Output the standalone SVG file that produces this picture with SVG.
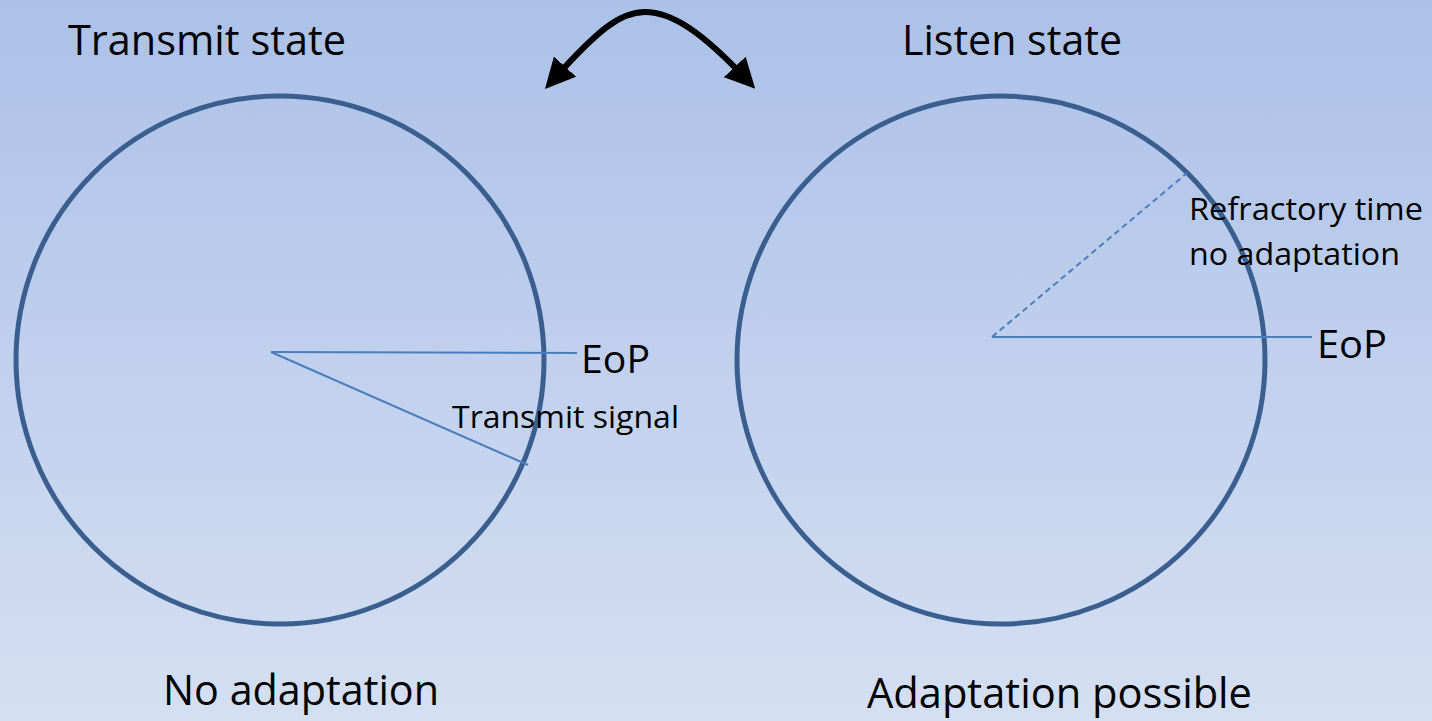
<svg xmlns="http://www.w3.org/2000/svg" width="1432" height="721" viewBox="0 0 1432 721">
  <defs>
    <linearGradient id="bg" x1="0" y1="0" x2="0" y2="1">
      <stop offset="0" stop-color="#acc1e8"/>
      <stop offset="1" stop-color="#d4dff2"/>
    </linearGradient>
    <marker id="head" viewBox="0 0 10 10" refX="6" refY="5" markerWidth="5" markerHeight="5" orient="auto-start-reverse" markerUnits="strokeWidth">
      <path d="M0,0 L10,5 L0,10 z" fill="#000"/>
    </marker>
    <style>
      .state { fill: none; stroke: #3a5f8e; stroke-width: 5; }
      .ray { stroke: #4a7ebb; stroke-width: 2; fill: none; }
      .dash { stroke-dasharray: 6 4; }
      text { font-family: "Open Sans", "Liberation Sans", sans-serif; fill: #000; }
      .big { font-size: 42px; }
      .mid { font-size: 39px; }
      .small { font-size: 31px; }
    </style>
  </defs>

  <rect width="1432" height="721" fill="url(#bg)"/>

  <!-- transmit state -->
  <g id="transmit">
    <circle class="state" cx="280" cy="360" r="264"/>
    <text class="big" x="68" y="55" textLength="278" lengthAdjust="spacingAndGlyphs">Transmit state</text>
    <text class="big" x="163" y="705" textLength="276" lengthAdjust="spacingAndGlyphs">No adaptation</text>
  </g>

  <!-- listen state -->
  <g id="listen">
    <circle class="state" cx="1001" cy="360" r="264"/>
    <text class="big" x="902" y="55" textLength="220" lengthAdjust="spacingAndGlyphs">Listen state</text>
    <text class="big" x="867" y="708" textLength="385" lengthAdjust="spacingAndGlyphs">Adaptation possible</text>
  </g>

  <!-- pointer lines inside the states, and the switch arrow -->
  <g id="connectors">
    <line class="ray" x1="271" y1="352" x2="577" y2="353"/>
    <line class="ray" x1="271" y1="352" x2="528" y2="465"/>
    <line class="ray" x1="992" y1="337" x2="1312" y2="337"/>
    <line class="ray dash" x1="992" y1="337" x2="1187" y2="173"/>
    <path d="M553,80 C598,30 620,12 645,12 C672,12 702,32 747,80" fill="none" stroke="#000" stroke-width="6" marker-start="url(#head)" marker-end="url(#head)"/>
  </g>

  <g id="labels">
    <text class="mid" x="581" y="373" textLength="69" lengthAdjust="spacingAndGlyphs">EoP</text>
    <text class="small" x="452" y="428" textLength="227" lengthAdjust="spacingAndGlyphs">Transmit signal</text>
    <text class="small" x="1189" y="220" textLength="234" lengthAdjust="spacingAndGlyphs">Refractory time</text>
    <text class="small" x="1189" y="265" textLength="211" lengthAdjust="spacingAndGlyphs">no adaptation</text>
    <text class="mid" x="1317" y="358" textLength="70" lengthAdjust="spacingAndGlyphs">EoP</text>
  </g>
</svg>
